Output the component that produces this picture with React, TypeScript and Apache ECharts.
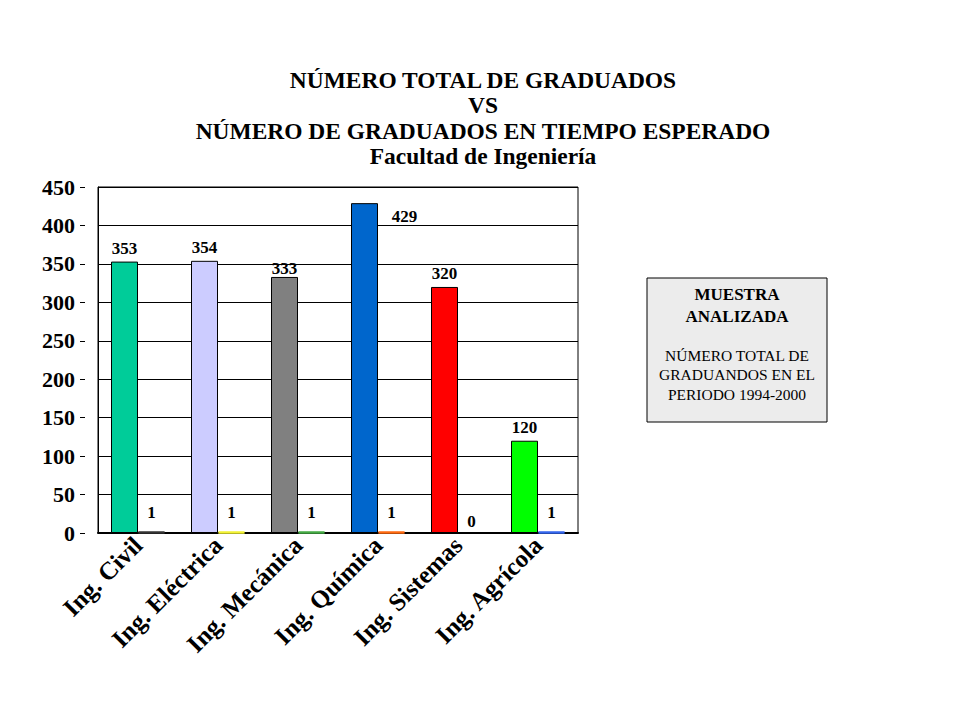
import { useEffect, useRef } from 'react';
import * as echarts from 'echarts';

const categories = ['Ing. Civil', 'Ing. Eléctrica', 'Ing. Mecánica', 'Ing. Química', 'Ing. Sistemas', 'Ing. Agrícola'];
const totalGraduados = [353, 354, 333, 429, 320, 120];
const enTiempoEsperado = [1, 1, 1, 1, 0, 1];
const totalColors = ['#00cc99', '#ccccff', '#808080', '#0066cc', '#ff0000', '#00ff00'];
const tiempoColors = ['#333333', '#f2f233', '#44aa44', '#ff6a10', '#ffffff', '#3366ee'];

const titleLines = [
  'NÚMERO TOTAL DE GRADUADOS',
  'VS',
  'NÚMERO DE GRADUADOS EN TIEMPO ESPERADO',
  'Facultad de Ingeniería',
];
const boxTitle = ['MUESTRA', 'ANALIZADA'];
const boxText = ['NÚMERO TOTAL DE', 'GRADUANDOS EN EL', 'PERIODO 1994-2000'];

const serif = '"Liberation Serif", "Times New Roman", serif';

export default function App() {
  const chartRef = useRef(null);

  useEffect(() => {
    const chart = echarts.init(chartRef.current, null, { renderer: 'svg' });

    const labelStyle = {
      show: true,
      position: 'top',
      color: '#000',
      fontFamily: serif,
      fontWeight: 'bold',
      fontSize: 17,
    };

    const option = {
      animation: false,
      grid: { left: 98, right: 382, top: 187, bottom: 187, show: true, borderColor: '#000', borderWidth: 1 },
      xAxis: {
        type: 'category',
        data: categories,
        axisLine: { lineStyle: { color: '#000', width: 2 } },
        axisTick: { show: false },
        axisLabel: {
          interval: 0,
          rotate: 45,
          margin: 8,
          color: '#000',
          fontFamily: serif,
          fontWeight: 'bold',
          fontSize: 25,
        },
      },
      yAxis: [
        {
          type: 'value',
          min: 0,
          max: 450,
          interval: 50,
          axisLine: { show: true, lineStyle: { color: '#000' } },
          axisTick: { show: false },
          axisLabel: { show: false },
          splitLine: { lineStyle: { color: '#000', width: 1 } },
        },
        {
          type: 'value',
          position: 'left',
          offset: 13,
          min: 0,
          max: 450,
          interval: 50,
          axisLine: { show: false },
          axisTick: { show: true, length: 5, lineStyle: { color: '#000' } },
          axisLabel: {
            margin: 10,
            color: '#000',
            fontFamily: serif,
            fontWeight: 'bold',
            fontSize: 22,
          },
          splitLine: { show: false },
        },
      ],
      series: [
        {
          name: 'Total de graduados',
          type: 'bar',
          barWidth: 27,
          barGap: '0%',
          label: labelStyle,
          data: totalGraduados.map((v, i) => ({
            value: v,
            itemStyle: { color: totalColors[i], borderColor: '#000', borderWidth: 1 },
            label: v === 429 ? { offset: [40, 27] } : v === 333 ? { distance: 0 } : undefined,
          })),
        },
        {
          name: 'Graduados en tiempo esperado',
          type: 'bar',
          barWidth: 27,
          label: { ...labelStyle, distance: 10 },
          data: enTiempoEsperado.map((v, i) => ({
            value: v,
            itemStyle: { color: tiempoColors[i], borderColor: tiempoColors[i], borderWidth: v ? 2.5 : 0 },
            label: v === 0 ? { distance: 3 } : undefined,
          })),
        },
      ],
      graphic: [
        ...titleLines.map((t, i) => ({
          type: 'text',
          x: 483,
          y: 80 + i * 25.5,
          scaleX: 1.02,
          style: {
            text: t,
            fill: '#000',
            fontFamily: serif,
            fontWeight: 'bold',
            fontSize: 23,
            align: 'center',
            verticalAlign: 'middle',
          },
        })),
        {
          type: 'rect',
          shape: { x: 647, y: 278, width: 180, height: 144 },
          style: { fill: '#ececec', stroke: '#000', lineWidth: 1 },
        },
        ...boxTitle.map((t, i) => ({
          type: 'text',
          x: 737,
          y: 294 + i * 22,
          style: {
            text: t,
            fill: '#000',
            fontFamily: serif,
            fontWeight: 'bold',
            fontSize: 17,
            align: 'center',
            verticalAlign: 'middle',
          },
        })),
        ...boxText.map((t, i) => ({
          type: 'text',
          x: 737,
          y: 355 + i * 19.5,
          style: {
            text: t,
            fill: '#000',
            fontFamily: serif,
            fontSize: 15.5,
            align: 'center',
            verticalAlign: 'middle',
          },
        })),
      ],
    };

    chart.setOption(option);
    return () => {
      chart.dispose();
    };
  }, []);

  return <div ref={chartRef} style={{ position: 'fixed', left: 0, top: 0, width: '960px', height: '720px', background: '#fff' }} />;
}
